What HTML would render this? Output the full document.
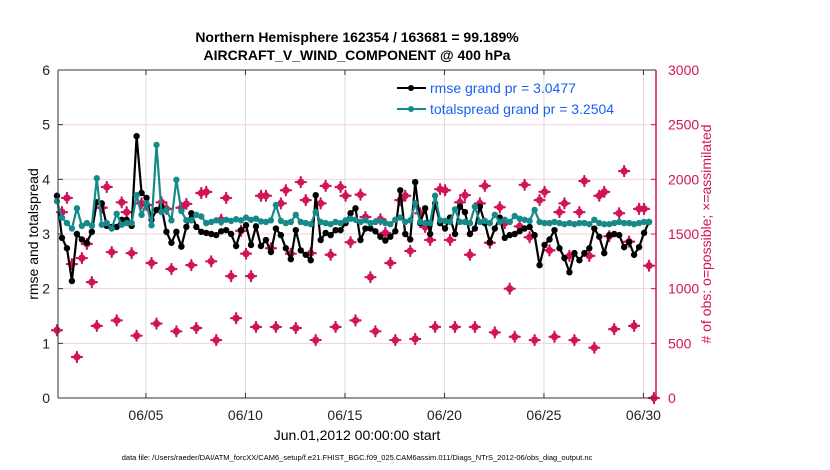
<!DOCTYPE html>
<html><head><meta charset="utf-8"><style>
body{margin:0;background:#fff;}
svg{font-family:"Liberation Sans",Arial,sans-serif;display:block;}
</style></head><body>
<svg id="chart" width="830" height="470" viewBox="0 0 830 470">
<g id="grid"></g>
<g id="marks"></g>
<g id="axes"></g>
<text x="357" y="42" text-anchor="middle" font-size="14" font-weight="bold">Northern Hemisphere 162354 / 163681 = 99.189%</text>
<text x="357" y="60" text-anchor="middle" font-size="14" font-weight="bold">AIRCRAFT_V_WIND_COMPONENT @ 400 hPa</text>
<text transform="translate(38,234) rotate(-90)" text-anchor="middle" font-size="14">rmse and totalspread</text>
<text transform="translate(711,234) rotate(-90)" text-anchor="middle" font-size="14" fill="#d1145a"># of obs: o=possible; ×=assimilated</text>
<text x="357" y="440" text-anchor="middle" font-size="14">Jun.01,2012 00:00:00 start</text>
<text x="357" y="460" text-anchor="middle" font-size="7.5">data file: /Users/raeder/DAI/ATM_forcXX/CAM6_setup/f.e21.FHIST_BGC.f09_025.CAM6assim.011/Diags_NTrS_2012-06/obs_diag_output.nc</text>
<g>
<line x1="397" y1="88" x2="426" y2="88" stroke="#000" stroke-width="2"/><circle cx="411" cy="88" r="3" fill="#000"/>
<text x="430" y="93" font-size="14" fill="#1a5ff0">rmse grand pr = 3.0477</text>
<line x1="397" y1="109" x2="426" y2="109" stroke="#168a8a" stroke-width="2"/><circle cx="411" cy="109" r="3" fill="#168a8a"/>
<text x="430" y="114" font-size="14" fill="#1a5ff0">totalspread grand pr = 3.2504</text>
</g>
</svg>
<script>
const rmse=[3.7,2.93,2.74,2.14,3.0,2.9,2.84,3.04,3.58,3.56,3.15,3.13,3.13,3.26,3.26,3.15,4.79,3.75,3.66,3.26,3.44,3.5,3.04,2.84,3.04,2.77,3.13,3.38,3.13,3.04,3.02,3.0,2.98,3.05,3.07,3.0,2.78,3.07,3.16,2.8,3.14,2.78,2.89,2.67,3.1,2.98,2.74,2.54,3.07,2.7,2.62,2.52,3.71,2.89,3.02,2.98,3.07,3.07,3.2,3.38,3.47,2.89,3.1,3.1,3.05,2.95,2.88,2.95,3.05,3.8,3.0,2.9,3.95,3.2,3.47,3.0,3.56,3.2,3.1,3.3,3.0,3.5,3.4,3.0,3.1,3.5,3.2,2.85,3.1,3.3,2.93,2.98,3.0,3.05,3.1,3.13,2.98,2.43,2.8,2.9,3.07,2.74,2.56,2.3,2.65,2.52,2.65,2.74,3.1,2.95,2.65,2.98,3.0,2.98,2.76,2.85,2.62,2.76,3.02,3.22];
const spread=[3.6,3.3,3.2,3.1,3.47,3.15,3.2,3.15,4.02,3.17,3.2,3.1,3.37,3.17,3.2,3.2,3.71,3.35,3.56,3.16,4.63,3.4,3.44,3.25,3.99,3.42,3.25,3.25,3.35,3.32,3.2,3.22,3.25,3.22,3.26,3.24,3.27,3.25,3.3,3.26,3.28,3.23,3.22,3.25,3.53,3.24,3.2,3.22,3.35,3.22,3.2,3.18,3.4,3.22,3.2,3.18,3.22,3.2,3.25,3.28,3.26,3.22,3.25,3.2,3.22,3.24,3.2,3.18,3.26,3.3,3.22,3.25,3.56,3.22,3.2,3.2,3.7,3.25,3.24,3.22,3.45,3.22,3.22,3.2,3.5,3.22,3.24,3.2,3.35,3.22,3.26,3.22,3.33,3.28,3.26,3.24,3.44,3.22,3.2,3.2,3.22,3.2,3.18,3.2,3.18,3.2,3.2,3.18,3.26,3.2,3.18,3.18,3.2,3.22,3.2,3.2,3.18,3.2,3.22,3.22];
const nobs=[620,1700,1830,1225,375,1280,1410,1060,660,1740,1930,1335,710,1790,1700,1325,570,1780,1765,1235,680,1790,1730,1180,610,1740,1775,1215,640,1875,1885,1250,530,1630,1830,1115,730,1530,1320,1115,650,1850,1850,1370,650,1780,1900,1320,640,1975,1810,1325,530,1780,1940,1310,650,1930,1850,1425,710,1860,1655,1105,610,1635,1510,1235,530,1810,1850,1345,540,1690,1565,1445,650,1910,1900,1445,650,1790,1855,1310,650,1780,1940,1420,600,1745,1600,1000,560,1570,1950,1470,530,1810,1885,1350,560,1700,1780,1300,530,1700,1985,1300,460,1850,1885,1480,630,1690,2075,1430,660,1730,1730,1210,0];
const leftTicks=[0,1,2,3,4,5,6];
const rightTicks=[0,500,1000,1500,2000,2500,3000];
const xTickLabels=["06/05","06/10","06/15","06/20","06/25","06/30"];
const xTickDays=[4.47,9.47,14.47,19.47,24.47,29.47];

const NS="http://www.w3.org/2000/svg";
const L=58,R=656,T=70,B=398;
const xs=t=>57+19.9*t;
const yl=v=>B-(v/6)*(B-T);
const yr=v=>B-(v/3000)*(B-T);
function mk(tag,attrs,parent){const e=document.createElementNS(NS,tag);for(const k in attrs)e.setAttribute(k,attrs[k]);parent.appendChild(e);return e;}
const grid=document.getElementById('grid'),marks=document.getElementById('marks'),axes=document.getElementById('axes');
mk('rect',{x:L,y:T,width:R-L,height:B-T,fill:'#fff'},grid);
xTickDays.forEach((d,i)=>{const x=xs(d);
 const g=mk('line',{x1:x,y1:T,x2:x,y2:B,stroke:'#dcdcdc','stroke-width':1},grid);
 
 
 mk('line',{x1:x,y1:B,x2:x,y2:B-5,stroke:'#333'},axes);
 mk('line',{x1:x,y1:T,x2:x,y2:T+5,stroke:'#333'},axes);
 const t=mk('text',{x:x,y:B+22,'text-anchor':'middle','font-size':14,fill:'#222'},axes);t.textContent=xTickLabels[i];
 
 
});
rightTicks.forEach(v=>{const y=yr(v);
 if(v>0&&v<3000){const g=mk('line',{x1:L,y1:y,x2:R,y2:y,stroke:'#f4cfe0','stroke-width':1},grid);
 
 }
 mk('line',{x1:R,y1:y,x2:R-5,y2:y,stroke:'#d1145a'},axes);
 const t=mk('text',{x:R+12,y:y+5,'font-size':14,fill:'#d1145a'},axes);t.textContent=v;
 
 
});
leftTicks.forEach(v=>{const y=yl(v);
 mk('line',{x1:L,y1:y,x2:L+5,y2:y,stroke:'#333'},axes);
 const t=mk('text',{x:L-8,y:y+5,'font-size':14,'text-anchor':'end',fill:'#222'},axes);t.textContent=v;
 
 
});
mk('line',{x1:L,y1:T,x2:R,y2:T,stroke:'#333'},axes);
mk('line',{x1:L,y1:B,x2:R,y2:B,stroke:'#333'},axes);
mk('line',{x1:L,y1:T,x2:L,y2:B,stroke:'#333'},axes);
mk('line',{x1:R,y1:T,x2:R,y2:B,stroke:'#d1145a','stroke-width':1.5},axes);

nobs.forEach((v,i)=>{const x=xs(i*0.25),y=yr(v);
 const g=mk('g',{},marks);
 
 
 mk('circle',{cx:x,cy:y,r:3.6,fill:'#d1145a'},g);
 mk('path',{d:`M${x-5},${y}H${x+5}M${x},${y-5}V${y+5}`,stroke:'#d1145a','stroke-width':2.2,'stroke-linecap':'round'},g);
});
function series(vals,color,name){
 const p=mk('polyline',{points:vals.map((v,i)=>xs(i*0.25)+','+yl(v)).join(' '),fill:'none',stroke:color,'stroke-width':2.2,'stroke-linejoin':'round'},marks);
 
 
 vals.forEach((v,i)=>{const c=mk('circle',{cx:xs(i*0.25),cy:yl(v),r:3.2,fill:color},marks);
  
  });
}
series(rmse,'#000','rmse');
series(spread,'#168a8a','totalspread');
</script>
</body></html>
